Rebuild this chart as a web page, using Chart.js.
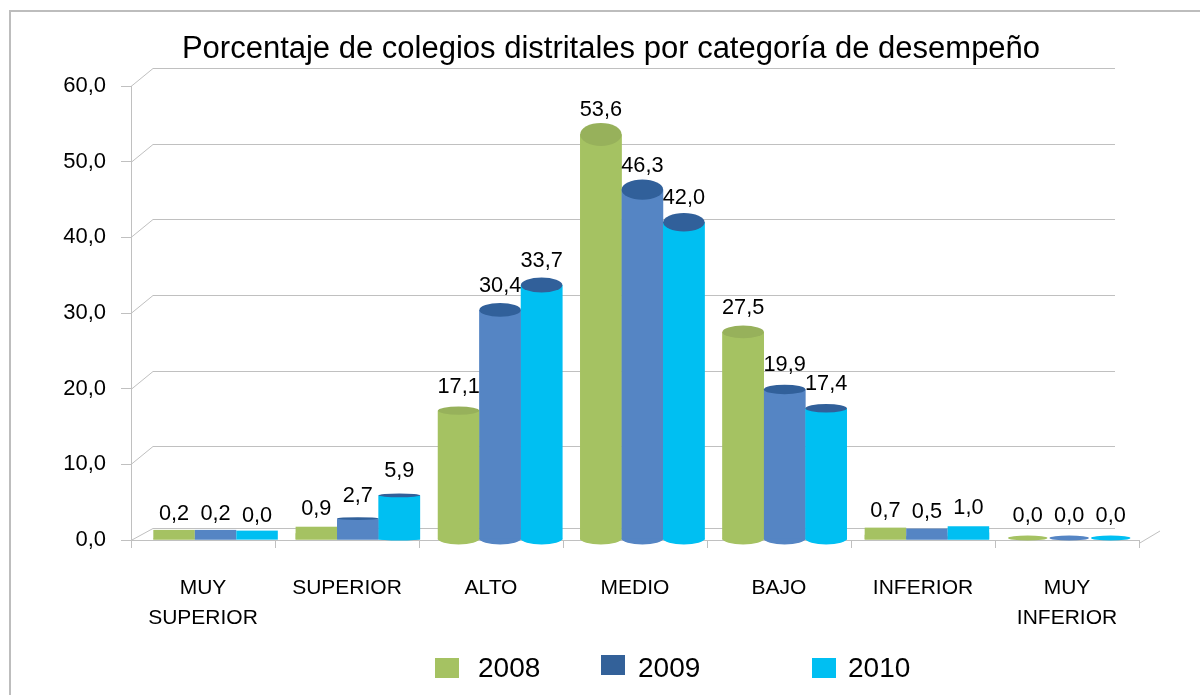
<!DOCTYPE html>
<html>
<head>
<meta charset="utf-8">
<script src="https://cdn.jsdelivr.net/npm/chart.js@4.4.0/dist/chart.umd.min.js"></script>
<style>
  html, body { margin: 0; padding: 0; background: #fff; }
  #wrap { width: 1200px; height: 695px; }
</style>
</head>
<body>
<div id="wrap"><canvas id="chart" width="1200" height="695"></canvas></div>
<script>
// ── Data ──────────────────────────────────────────────────────────────────────

const title = 'Porcentaje de colegios distritales por categoría de desempeño';
const categories = [['MUY', 'SUPERIOR'], 'SUPERIOR', 'ALTO', 'MEDIO', 'BAJO', 'INFERIOR', ['MUY', 'INFERIOR']];
const years = ['2008', '2009', '2010'];
const values2008 = [0.2, 0.9, 17.1, 53.6, 27.5, 0.7, 0.0];
const values2009 = [0.2, 2.7, 30.4, 46.3, 19.9, 0.5, 0.0];
const values2010 = [0.04, 5.9, 33.7, 42.0, 17.4, 1.0, 0.0];
const yTicks = [0, 10, 20, 30, 40, 50, 60];

// ── Styles ────────────────────────────────────────────────────────────────────

const bodyColors = ['#A5C262', '#5585C4', '#00BFF2'];
const topColors = ['#97B15B', '#31609A', '#31609A'];
const legendColors = ['#A5C262', '#336199', '#00BFF2'];
const GRID = '#C0C0C0';
const FONT = '"Liberation Sans", Arial, sans-serif';

function fmt(v) { return v.toFixed(1).replace('.', ','); }

// ── Plugins ───────────────────────────────────────────────────────────────────

// white page + frame of the Excel chart object, title, legend
const page = {
  id: 'page',
  beforeDraw(chart) {
    const ctx = chart.ctx;
    ctx.save();
    ctx.fillStyle = '#fff';
    ctx.fillRect(0, 0, chart.width, chart.height);
    ctx.strokeStyle = '#BDBDBD';
    ctx.lineWidth = 2;
    ctx.beginPath();
    ctx.moveTo(10, chart.height);
    ctx.lineTo(10, 11);
    ctx.lineTo(chart.width, 11);
    ctx.stroke();
    ctx.restore();
  },
  afterDraw(chart) {
    const ctx = chart.ctx;
    ctx.save();
    ctx.fillStyle = '#000';
    ctx.font = '31px ' + FONT;
    ctx.textAlign = 'center';
    ctx.textBaseline = 'alphabetic';
    ctx.fillText(title, 611, 58);

    const boxX = [435, 601, 812];
    const boxY = [658, 655, 658];
    const textX = [478, 638, 848];
    ctx.font = '28px ' + FONT;
    ctx.textAlign = 'left';
    years.forEach((yr, i) => {
      ctx.fillStyle = legendColors[i];
      ctx.fillRect(boxX[i], boxY[i], 24, 20);
      ctx.fillStyle = '#000';
      ctx.fillText(yr, textX[i], 677);
    });
    ctx.restore();
  },
};

// 3D walls behind the bars
function drawFrame(chart) {
  const { ctx, chartArea: { left, right, bottom }, scales: { y } } = chart;
  ctx.save();
  ctx.strokeStyle = GRID;
  ctx.lineWidth = 1;
  yTicks.forEach(t => {
    const py = Math.round(y.getPixelForValue(t)) + 0.5;
    const off = t === 0 ? 12 : 18;
    ctx.beginPath();
    ctx.moveTo(left, py);
    ctx.lineTo(left + 22, py - off);
    ctx.lineTo(right - 24, py - off);
    ctx.stroke();
  });
  ctx.beginPath();
  ctx.moveTo(right, bottom + 3.5);
  ctx.lineTo(right + 21, bottom - 9);
  ctx.stroke();
  ctx.restore();
}

// turns the flat bars into cylinders and writes the value labels
const cylinders = {
  id: 'cylinders',
  beforeDatasetsDraw(chart) {
    drawFrame(chart);
    const ctx = chart.ctx;
    ctx.save();
    ctx.translate(15, 0);
    ctx.scale(0.988, 1);
  },
  afterDatasetsDraw(chart) {
    const ctx = chart.ctx;
    const labels = [];
    chart.data.datasets.forEach((ds, di) => {
      const meta = chart.getDatasetMeta(di);
      meta.data.forEach((bar, i) => {
        const v = ds.data[i];
        const { x, y, base, width } = bar.getProps(['x', 'y', 'base', 'width'], true);
        const r = width / 2;
        labels.push({ x, y, text: fmt(v) });
        ctx.fillStyle = bodyColors[di];
        if (v === 0) {
          ctx.beginPath();
          ctx.ellipse(x, base - 2, r - 1, 2.5, 0, 0, Math.PI * 2);
          ctx.fill();
          return;
        }
        const h = base - y;
        const top = y - Math.max(0, 9 - 0.4 * h);
        ctx.fillRect(x - r, top, width, base - top);
        const rb = Math.min(6, v * 0.35);
        if (rb >= 1) {
          ctx.beginPath();
          ctx.ellipse(x, base - 1, r, rb, 0, 0, Math.PI);
          ctx.fill();
        }
        if (v >= 1.5) {
          ctx.fillStyle = topColors[di];
          ctx.beginPath();
          ctx.ellipse(x, top, r, 0.8 + 0.2 * v, 0, 0, Math.PI * 2);
          ctx.fill();
        }
      });
    });
    ctx.fillStyle = '#000';
    ctx.font = '22px ' + FONT;
    ctx.textAlign = 'center';
    ctx.textBaseline = 'alphabetic';
    labels.forEach(l => ctx.fillText(l.text, l.x, l.y - 18));
    ctx.restore();
  },
};

// ── Chart ─────────────────────────────────────────────────────────────────────

Chart.defaults.font.family = FONT;
Chart.defaults.color = '#000';

const series = [values2008, values2009, values2010];

new Chart(document.getElementById('chart'), {
  type: 'bar',
  data: {
    labels: categories,
    datasets: years.map((yr, i) => ({
      label: yr,
      data: series[i],
      backgroundColor: bodyColors[i],
      borderWidth: 0,
      clip: false,
      barPercentage: 1,
      categoryPercentage: 0.875,
    })),
  },
  options: {
    responsive: false,
    animation: false,
    layout: { padding: { left: 10, right: 61, top: 86, bottom: 0 } },
    plugins: {
      legend: { display: false },
      title: { display: false },
      tooltip: { enabled: false },
    },
    scales: {
      x: {
        afterFit(scale) { scale.height = 155; },
        ticks: { color: '#000', font: { size: 21, lineHeight: 1.4 }, padding: 26, maxRotation: 0, autoSkip: false },
        grid: { drawOnChartArea: false, tickLength: 8, color: GRID, offset: true },
        border: { color: GRID },
      },
      y: {
        min: 0,
        max: 60,
        afterFit(scale) { scale.width = 121; },
        afterBuildTicks(scale) { scale.ticks = yTicks.map(v => ({ value: v })); },
        ticks: { color: '#000', font: { size: 22 }, padding: 15, callback: v => fmt(v) },
        grid: { drawOnChartArea: false, tickLength: 10, color: GRID },
        border: { color: GRID },
      },
    },
  },
  plugins: [page, cylinders],
});
</script>
</body>
</html>
